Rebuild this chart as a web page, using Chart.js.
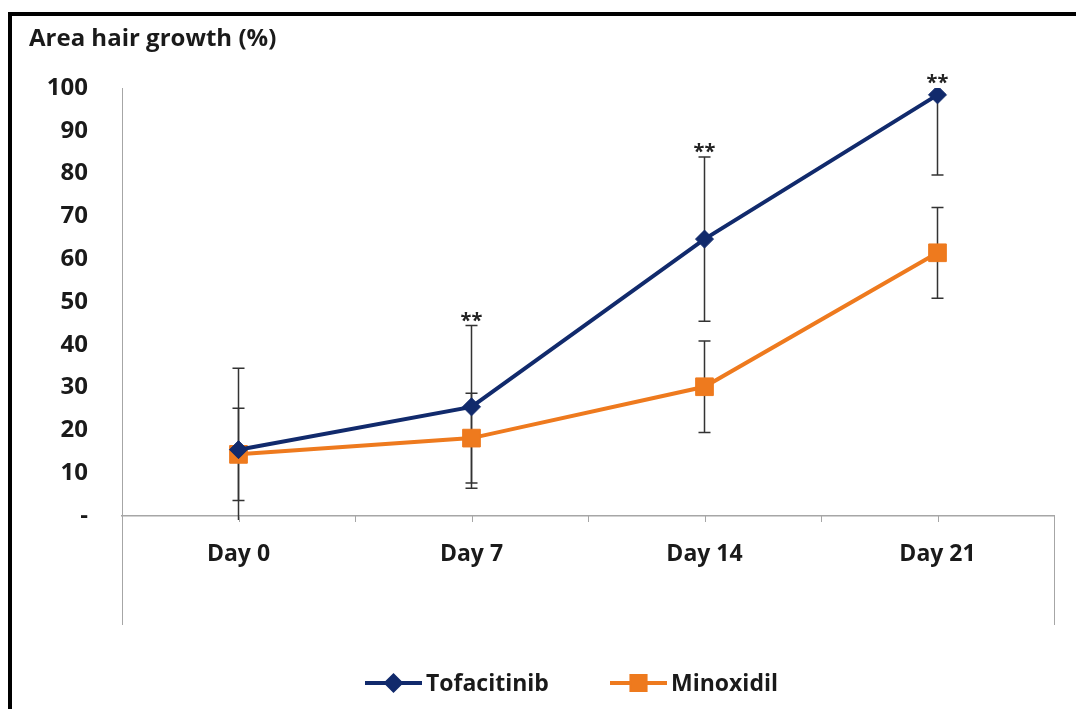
<!DOCTYPE html>
<html>
<head>
<meta charset="utf-8">
<title>Area hair growth</title>
<script src="https://cdn.jsdelivr.net/npm/chart.js@4.4.1/dist/chart.umd.min.js"></script>
<style>
  html, body { margin: 0; padding: 0; background: #fff; }
  #wrap { position: relative; width: 1076px; height: 709px; overflow: hidden; }
  #frame { position: absolute; left: 8px; top: 12px; right: -10px; bottom: -10px;
           border-top: 4px solid #000; border-left: 4px solid #000; pointer-events: none; }
  canvas { position: absolute; left: 0; top: 0; }
</style>
</head>
<body>
<div id="wrap">
  <canvas id="chart" width="1076" height="709"></canvas>
  <div id="frame"></div>
</div>
<script>
// Mean area of hair growth (%) per visit, with SD error bars
const days = ['Day 0', 'Day 7', 'Day 14', 'Day 21'];
const tofacitinib = [15.5, 25.5, 64.7, 98.4];
const tofacitinibSD = [19.0, 19.0, 19.2, 18.7];
const minoxidil = [14.4, 18.2, 30.2, 61.5];
const minoxidilSD = [10.8, 10.5, 10.7, 10.6];
const significance = ['', '**', '**', '**'];
const yTicks = [0, 10, 20, 30, 40, 50, 60, 70, 80, 90, 100];

const BLUE = '#112a6c';
const ORANGE = '#ee7a1e';
const FONT = '"Open Sans", Lato, sans-serif';

// Error bars drawn under the line markers
const errorBars = {
  id: 'errorBars',
  beforeDatasetsDraw(chart) {
    const { ctx, chartArea, scales: { y } } = chart;
    ctx.save();
    ctx.beginPath();
    ctx.rect(chartArea.left, chartArea.top, chartArea.right - chartArea.left, chartArea.bottom - chartArea.top + 4);
    ctx.clip();
    ctx.strokeStyle = '#333';
    ctx.lineWidth = 1.5;
    chart.data.datasets.forEach((ds, di) => {
      const meta = chart.getDatasetMeta(di);
      meta.data.forEach((pt, i) => {
        const v = ds.data[i], e = ds.sd[i];
        const yTop = y.getPixelForValue(v + e);
        const yBot = y.getPixelForValue(v - e);
        ctx.beginPath();
        ctx.moveTo(pt.x, yTop); ctx.lineTo(pt.x, yBot);
        ctx.moveTo(pt.x - 6, yTop); ctx.lineTo(pt.x + 6, yTop);
        ctx.moveTo(pt.x - 6, yBot); ctx.lineTo(pt.x + 6, yBot);
        ctx.stroke();
      });
    });
    ctx.restore();
  }
};

// Title, axis decorations, significance stars and legend
const decorations = {
  id: 'decorations',
  afterDraw(chart) {
    const { ctx, chartArea, scales: { x, y } } = chart;
    ctx.save();
    // y-axis caption
    ctx.fillStyle = '#1a1a1a';
    ctx.font = 'bold 24px ' + FONT;
    ctx.textAlign = 'left';
    ctx.textBaseline = 'alphabetic';
    ctx.fillText('Area hair growth (%)', 29, 46);

    // tick marks on the category axis (centres and boundaries)
    ctx.strokeStyle = '#a6a6a6';
    ctx.lineWidth = 1;
    ctx.beginPath();
    for (let k = -0.5; k <= days.length - 0.5; k += 0.5) {
      const px = Math.round(x.getPixelForValue(k)) + 0.5;
      ctx.moveTo(px, chartArea.bottom);
      ctx.lineTo(px, chartArea.bottom + 6);
    }
    // side lines of the plot frame below the axis
    ctx.moveTo(Math.round(chartArea.left) + 0.5, chartArea.bottom);
    ctx.lineTo(Math.round(chartArea.left) + 0.5, 625);
    ctx.moveTo(Math.round(chartArea.right) + 0.5, chartArea.bottom);
    ctx.lineTo(Math.round(chartArea.right) + 0.5, 625);
    ctx.stroke();

    // significance stars above Tofacitinib
    ctx.fillStyle = '#222';
    ctx.font = 'bold 20px ' + FONT;
    ctx.textAlign = 'center';
    ctx.textBaseline = 'alphabetic';
    const meta0 = chart.getDatasetMeta(0);
    significance.forEach((s, i) => {
      if (!s) return;
      const top = Math.max(y.getPixelForValue(tofacitinib[i] + tofacitinibSD[i]), chartArea.top);
      ctx.fillText(s, meta0.data[i].x, top + 1);
    });

    // legend
    const legendY = 683;
    const items = [
      { ds: chart.data.datasets[0], x0: 365 },
      { ds: chart.data.datasets[1], x0: 610 }
    ];
    ctx.font = 'bold 23px ' + FONT;
    ctx.textAlign = 'left';
    ctx.textBaseline = 'middle';
    items.forEach(it => {
      const ds = it.ds;
      ctx.strokeStyle = ds.borderColor;
      ctx.lineWidth = 4;
      ctx.beginPath();
      ctx.moveTo(it.x0, legendY); ctx.lineTo(it.x0 + 57, legendY);
      ctx.stroke();
      Chart.helpers.drawPoint(ctx, {
        pointStyle: ds.pointStyle, radius: ds.pointRadius * 0.8,
        borderWidth: 1
      }, it.x0 + 28.5, legendY);
      ctx.fillStyle = ds.borderColor;
      ctx.fill();
      ctx.fillStyle = '#1a1a1a';
      ctx.fillText(ds.label, it.x0 + 61, legendY + 1);
    });
    ctx.restore();
  }
};

new Chart(document.getElementById('chart'), {
  type: 'line',
  data: {
    labels: days,
    datasets: [
      {
        label: 'Tofacitinib', data: tofacitinib, sd: tofacitinibSD,
        borderColor: BLUE, backgroundColor: BLUE, borderWidth: 4,
        pointStyle: 'rectRot', pointRadius: 9, pointBorderWidth: 1,
        pointBackgroundColor: BLUE, pointBorderColor: BLUE, tension: 0
      },
      {
        label: 'Minoxidil', data: minoxidil, sd: minoxidilSD,
        borderColor: ORANGE, backgroundColor: ORANGE, borderWidth: 4,
        pointStyle: 'rect', pointRadius: 12.5, pointBorderWidth: 1,
        pointBackgroundColor: ORANGE, pointBorderColor: ORANGE, tension: 0
      }
    ]
  },
  options: {
    responsive: false,
    animation: false,
    layout: { padding: { top: 88, right: 22, left: 0, bottom: 0 } },
    plugins: { legend: { display: false }, tooltip: { enabled: false }, title: { display: false } },
    scales: {
      x: {
        type: 'category',
        offset: true,
        grid: { display: false },
        border: { display: true, color: '#a6a6a6', width: 1.5 },
        ticks: { color: '#1a1a1a', font: { family: FONT, size: 23, weight: 'bold' }, padding: 17, maxRotation: 0 },
        afterFit(scale) { scale.height = 193; }
      },
      y: {
        min: 0, max: 100,
        afterBuildTicks(scale) { scale.ticks = yTicks.map(v => ({ value: v })); },
        grid: { display: false },
        border: { display: true, color: '#a6a6a6', width: 1 },
        ticks: {
          color: '#1a1a1a', font: { family: FONT, size: 24, weight: 'bold' }, padding: 26,
          callback: v => (v === 0 ? '-' : String(v))
        },
        afterFit(scale) { scale.width = 122; }
      }
    }
  },
  plugins: [errorBars, decorations]
});
</script>
</body>
</html>
